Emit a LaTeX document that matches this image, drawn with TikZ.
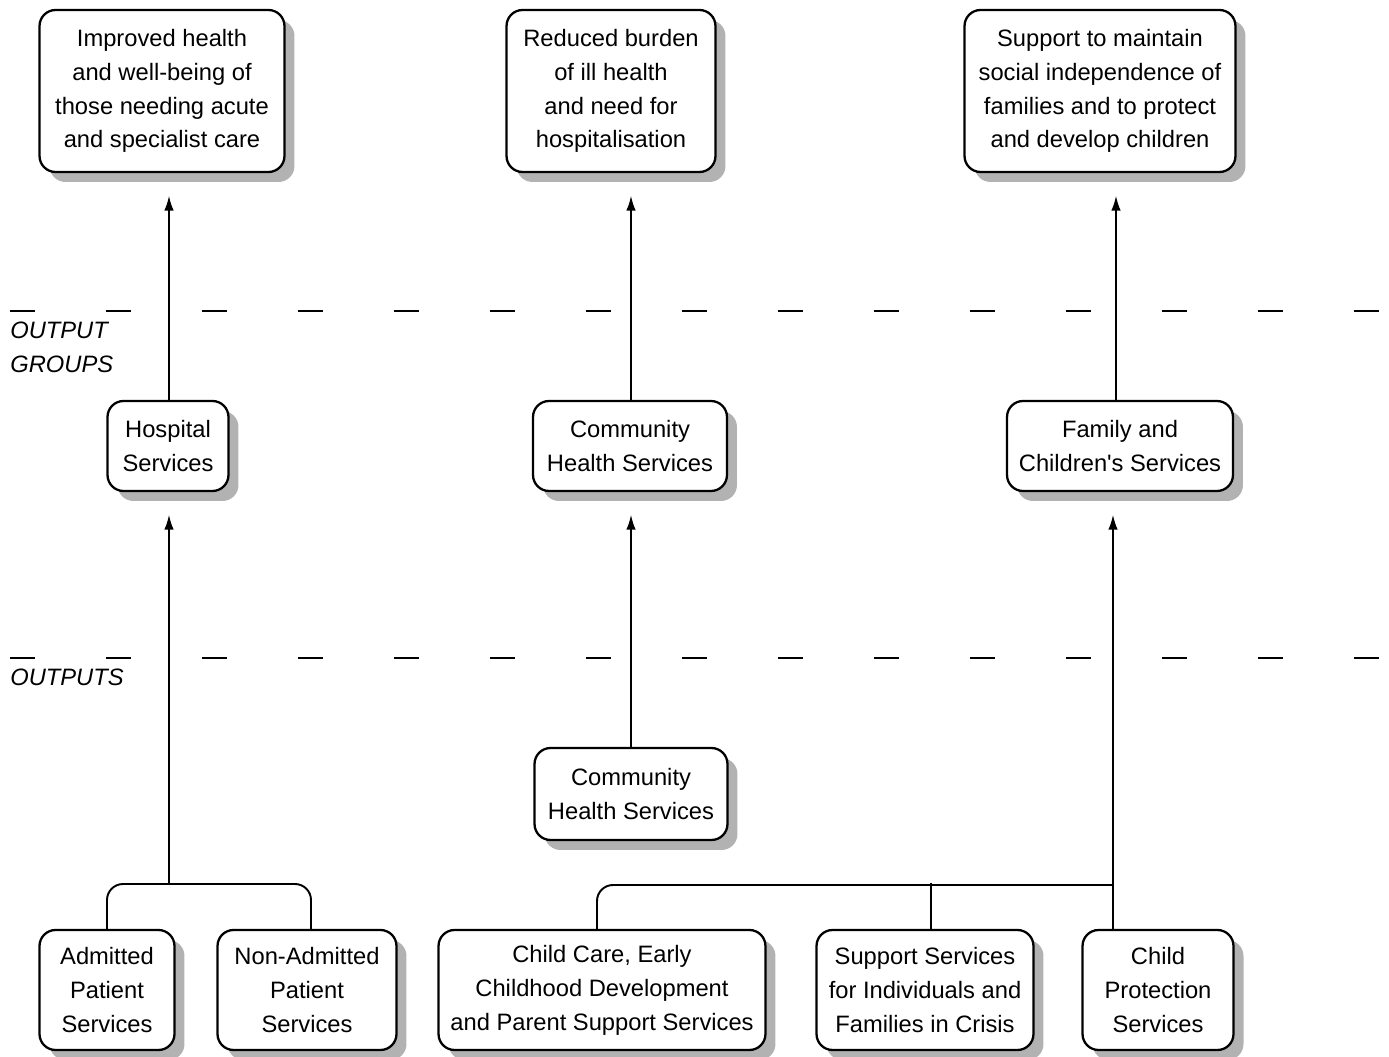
\documentclass[tikz,border=0pt]{standalone}
\usepackage{fontspec}
\setmainfont{Liberation Sans}
\usepackage{tikz}
\usetikzlibrary{arrows.meta,positioning,shadows}

\begin{document}
\begin{tikzpicture}[x=0.02cm, y=-0.02cm,
    every node/.style={font=\fontsize{13.5}{19.3}\selectfont}]
    \tikzstyle{box} = [rectangle, draw=black, line width=1.3pt, rounded corners=0.32cm,
        fill=white, align=center, inner sep=0pt,
        drop shadow={shadow xshift=0.2cm, shadow yshift=-0.2cm, fill=black!30, opacity=1}]
    \tikzstyle{link} = [line width=1.1pt]
    \tikzstyle{arrow} = [link, -{Latex[length=0.3cm, width=0.19cm]}, shorten >=0.45cm]
    \tikzstyle{level} = [line width=1pt, dash pattern=on 0.5cm off 1.42cm]
    \tikzstyle{tag} = [anchor=north west, inner sep=0pt, align=left, font=\fontsize{13.5}{19.3}\selectfont\itshape]

    \useasboundingbox (0,0) rectangle (1389,1057);

    % outcomes
    \node (acute) [box, minimum width=4.9cm, minimum height=3.24cm] at (162,91)
        {Improved health\\and well-being of\\those needing acute\\and specialist care};
    \node (burden) [box, minimum width=4.18cm, minimum height=3.24cm] at (611,91)
        {Reduced burden\\of ill health\\and need for\\hospitalisation};
    \node (social) [box, minimum width=5.42cm, minimum height=3.24cm] at (1100,91)
        {Support to maintain\\social independence of\\families and to protect\\and develop children};

    % output groups
    \node (hosp) [box, minimum width=2.42cm, minimum height=1.8cm] at (168,446)
        {Hospital\\Services};
    \node (comm) [box, minimum width=3.88cm, minimum height=1.8cm] at (630,446)
        {Community\\Health Services};
    \node (fam) [box, minimum width=4.52cm, minimum height=1.8cm] at (1120,446)
        {Family and\\Children\textquotesingle s Services};

    % outputs
    \node (commout) [box, minimum width=3.86cm, minimum height=1.84cm] at (631,794)
        {Community\\Health Services};
    \node (adm) [box, minimum width=2.7cm, minimum height=2.4cm] at (107,990)
        {Admitted\\Patient\\Services};
    \node (nonadm) [box, minimum width=3.58cm, minimum height=2.4cm] at (307,990)
        {Non-Admitted\\Patient\\Services};
    \node (care) [box, minimum width=6.54cm, minimum height=2.4cm] at (602,990)
        {Child Care, Early\\Childhood Development\\and Parent Support Services};
    \node (crisis) [box, minimum width=4.34cm, minimum height=2.4cm] at (925,990)
        {Support Services\\for Individuals and\\Families in Crisis};
    \node (prot) [box, minimum width=3.02cm, minimum height=2.4cm] at (1158,990)
        {Child\\Protection\\Services};

    % level lines and labels
    \draw [level] (10,311) -- (1389,311);
    \draw [level] (10,658) -- (1389,658);
    \node (groupstag) [tag] at (10,322) {OUTPUT\\GROUPS};
    \node (outtag) [tag] at (10,669) {OUTPUTS};

    % branch points
    \coordinate (hospbr) at (169,884);
    \coordinate (fambr) at (1113,885);
    \coordinate (crisisbr) at (931,883);

    % connectors
    \draw [arrow] (hosp.north -| hospbr) -- (acute.south -| hospbr);
    \draw [arrow] (comm.north -| 631,0) -- (burden.south -| 631,0);
    \draw [arrow] (fam.north -| 1116,0) -- (social.south -| 1116,0);

    \draw [link, rounded corners=0.32cm] (adm.north -| 107,0) |- (hospbr) -| (nonadm.north -| 311,0);
    \draw [arrow] (hospbr) -- (hosp.south -| hospbr);

    \draw [arrow] (commout.north) -- (comm.south -| commout.north);

    \draw [link, rounded corners=0.32cm] (care.north -| 597,0) |- (fambr);
    \draw [link] (crisis.north -| crisisbr) -- (crisisbr);
    \draw [arrow] (prot.north -| fambr) -- (fam.south -| fambr);
\end{tikzpicture}
\end{document}
